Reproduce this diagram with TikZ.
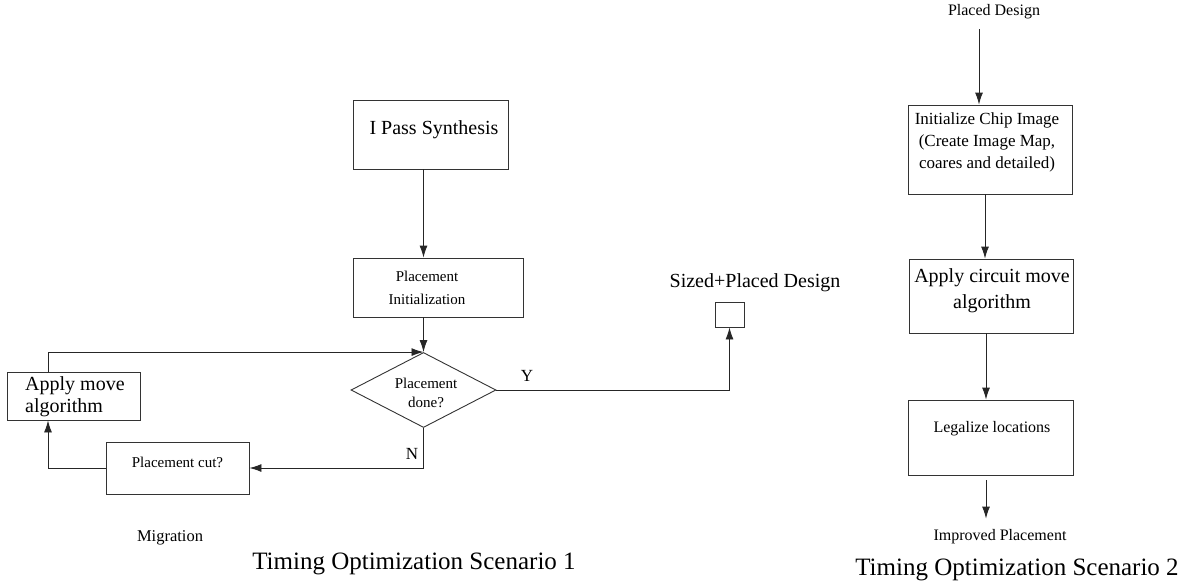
\documentclass[tikz,border=0pt]{standalone}
\usepackage{fontspec}
\setmainfont{Liberation Serif}
\usetikzlibrary{arrows.meta,shapes.geometric}

\begin{document}
\begin{tikzpicture}[x=1pt,y=-1pt,
    box/.style={draw=black!80,line width=0.9pt,inner sep=0pt},
    arr/.style={draw=black!85,line width=0.9pt,-{Latex[length=12pt,width=8pt]}},
    small/.style={inner sep=0pt,align=center,font=\fontsize{15}{22}\selectfont},
    mid/.style={inner sep=0pt,align=center,font=\fontsize{16}{22}\selectfont},
    big/.style={inner sep=0pt,align=center,font=\fontsize{20}{22}\selectfont},
    captxt/.style={inner sep=0pt,font=\fontsize{25}{28}\selectfont}]
  \useasboundingbox (0,0) rectangle (1186,587);
  % Scenario 1: synthesis, placement loop with migration
  \node[box,minimum width=155pt,minimum height=69pt] (pass) at (430.5,134.5) {};
  \node[big] (passt) at (434,130) {I Pass Synthesis};
  \node[box,minimum width=170pt,minimum height=59pt] (pinit) at (438,287.5) {};
  \node[small,font=\fontsize{15}{23}\selectfont] (pinitt) at (427,288) {Placement\\Initialization};
  \node[box,diamond,minimum width=145pt,minimum height=75pt] (dec) at (423.5,390) {};
  \node[small,font=\fontsize{15}{19}\selectfont] (dect) at (426,393) {Placement\\done?};
  \node[box,minimum width=29pt,minimum height=25pt] (sized) at (729.5,314.5) {};
  \node[big] (sizedt) at (755,283) {Sized+Placed Design};
  \node[box,minimum width=143pt,minimum height=52pt] (cut) at (177.5,468) {};
  \node[small] (cutt) at (177.5,462) {Placement cut?};
  \node[box,minimum width=133pt,minimum height=48pt] (move) at (73.5,396) {};
  \node[big,align=left,anchor=west] (movet) at (25,397) {Apply move\\algorithm};
  \node[small,font=\fontsize{17}{20}\selectfont] (yes) at (527,376) {Y};
  \node[small,font=\fontsize{17}{20}\selectfont] (no) at (412,454) {N};
  \node[mid,font=\fontsize{16.5}{20}\selectfont] (mig) at (170,538) {Migration};
  \node[captxt] (cap1) at (414,564) {Timing Optimization Scenario 1};
  \draw[arr] (pass.south -| dec.north) -- (pinit.north -| dec.north);
  \draw[arr] (pinit.south -| dec.north) -- (dec.north);
  \draw[arr] (dec.east) -| (sized.south);
  \draw[arr] (dec.south) |- (cut.east);
  \draw[arr] (cut.west) -| ([xshift=-25.5pt]move.south);
  \draw[arr] ([xshift=-25.5pt]move.north) |- (dec.north);
  % Scenario 2: chip image, circuit moves, legalization
  \node[mid] (pd) at (994,12) {Placed Design};
  \node[box,minimum width=164pt,minimum height=89pt] (chip) at (990,149.5) {};
  \node[mid,font=\fontsize{17}{22}\selectfont] (chipt) at (987,142) {Initialize Chip Image\\(Create Image Map,\\coares and detailed)};
  \node[box,minimum width=164pt,minimum height=74pt] (circ) at (991,296) {};
  \node[big,font=\fontsize{20}{26}\selectfont] (circt) at (992,291) {Apply circuit move\\algorithm};
  \node[box,minimum width=165pt,minimum height=75pt] (legal) at (990.5,437.5) {};
  \node[mid] (legalt) at (992,429) {Legalize locations};
  \node[mid] (imp) at (1000,537) {Improved Placement};
  \node[captxt] (cap2) at (1017,570) {Timing Optimization Scenario 2};
  \coordinate (chipin) at ([xshift=-11pt]chip.north);
  \coordinate (chipout) at ([xshift=-5pt]chip.south);
  \coordinate (circout) at ([xshift=-5pt]circ.south);
  \coordinate (legout) at ([xshift=-4.5pt]legal.south);
  \draw[arr,shorten <=10pt] (pd.south -| chipin) -- (chipin);
  \draw[arr] (chipout) -- (chipout |- circ.north);
  \draw[arr] (circout) -- (circout |- legal.north);
  \draw[arr,shorten <=5pt,shorten >=11pt] (legout) -- (legout |- imp.north);
\end{tikzpicture}
\end{document}
